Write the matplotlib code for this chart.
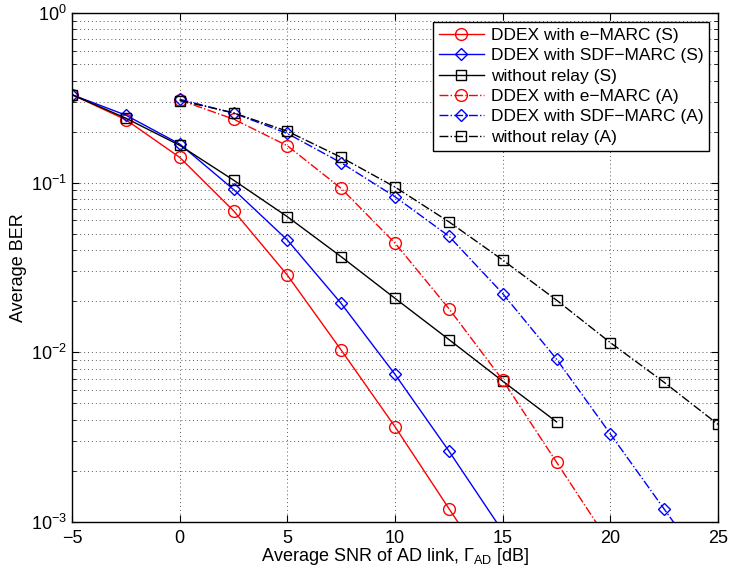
import numpy as np
import matplotlib
matplotlib.use('Agg')
import matplotlib.pyplot as plt
from matplotlib.ticker import LogLocator, NullFormatter

plt.rcParams['font.family'] = ['Liberation Sans', 'DejaVu Sans']
plt.rcParams['mathtext.default'] = 'regular'

# SNR points (dB)
snr_s = [-5, -2.5, 0, 2.5, 5, 7.5, 10, 12.5, 15, 17.5]
snr_a = [0, 2.5, 5, 7.5, 10, 12.5, 15, 17.5, 20, 22.5, 25]

# BER curves, synchronous (S)
ber_emarc_s = [0.33, 0.235, 0.141, 0.0683, 0.0285, 0.0103, 0.00364, 0.0012, 0.0004]
ber_sdf_s = [0.33, 0.25, 0.169, 0.0912, 0.0459, 0.0194, 0.00741, 0.00262, 0.00088]
ber_norelay_s = [0.33, 0.24, 0.166, 0.1035, 0.063, 0.0366, 0.0208, 0.0119, 0.00676, 0.00389]

# BER curves, asynchronous (A)
ber_emarc_a = [0.307, 0.237, 0.165, 0.0925, 0.044, 0.0181, 0.00686, 0.00225, 0.00074]
ber_sdf_a = [0.31, 0.257, 0.195, 0.131, 0.0826, 0.0484, 0.0222, 0.00912, 0.0033, 0.00119, 0.00043]
ber_norelay_a = [0.305, 0.258, 0.201, 0.141, 0.0942, 0.0588, 0.035, 0.0203, 0.0114, 0.00665, 0.00376]

labels = ['DDEX with e\u2212MARC (S)', 'DDEX with SDF\u2212MARC (S)', 'without relay (S)',
          'DDEX with e\u2212MARC (A)', 'DDEX with SDF\u2212MARC (A)', 'without relay (A)']

fig = plt.figure(figsize=(7.29, 5.76), dpi=100)
ax = fig.add_axes([0.0988, 0.0938, 0.8862, 0.8836])

lw = 1.0
ax.semilogy(snr_s[:len(ber_emarc_s)], ber_emarc_s, 'r-', marker='o', ms=8.5, mfc='none', lw=lw, label=labels[0])
ax.semilogy(snr_s[:len(ber_sdf_s)], ber_sdf_s, 'b-', marker='D', ms=6.5, mfc='none', lw=lw, label=labels[1])
ax.semilogy(snr_s, ber_norelay_s, 'k-', marker='s', ms=7, mfc='none', lw=lw, label=labels[2])
ax.semilogy(snr_a[:len(ber_emarc_a)], ber_emarc_a, 'r-.', marker='o', ms=8.5, mfc='none', lw=lw, label=labels[3])
ax.semilogy(snr_a, ber_sdf_a, 'b-.', marker='D', ms=6.5, mfc='none', lw=lw, label=labels[4])
ax.semilogy(snr_a, ber_norelay_a, 'k-.', marker='s', ms=7, mfc='none', lw=lw, label=labels[5])

ax.set_xlim(-5, 25)
ax.set_ylim(1e-3, 1)
ax.set_xticks([-5, 0, 5, 10, 15, 20, 25])
ax.set_xticklabels(['\u22125', '0', '5', '10', '15', '20', '25'])
ax.yaxis.set_major_locator(LogLocator(base=10, numticks=10))
ax.yaxis.set_minor_locator(LogLocator(base=10, subs=np.arange(2, 10), numticks=10))
ax.yaxis.set_minor_formatter(NullFormatter())

# sparse dotted grid
ax.grid(True, which='major', linestyle=(0, (1, 3)), color='0.35', lw=0.7)
ax.grid(True, which='minor', axis='y', linestyle=(0, (1, 3)), color='0.35', lw=0.7)
ax.tick_params(which='both', direction='in', top=True, right=True, labelsize=13)
ax.tick_params(which='major', length=5)
ax.tick_params(which='minor', length=3)
ax.tick_params(axis='x', pad=6)
for sp in ax.spines.values():
    sp.set_linewidth(1.0)

ax.set_xlabel('Average SNR of AD link, $\\Gamma_{AD}$ [dB]', fontsize=13, labelpad=-1)
ax.set_ylabel('Average BER', fontsize=13, labelpad=3)

leg = ax.legend(loc='upper right', fontsize=12.5, frameon=True, fancybox=False,
                edgecolor='k', framealpha=1, handlelength=2.6, borderpad=0.35,
                labelspacing=0.3, handletextpad=0.4, borderaxespad=0.5)
leg.get_frame().set_linewidth(1.0)

fig.savefig('out.png', dpi=100)
